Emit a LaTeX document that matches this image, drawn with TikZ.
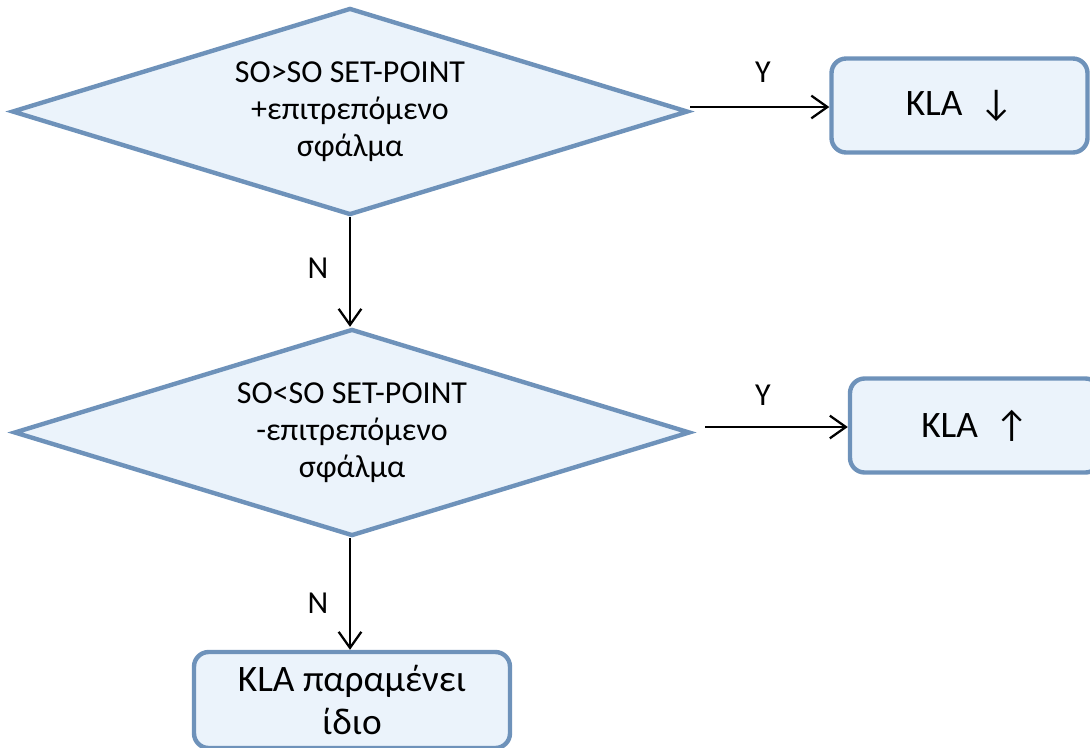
\documentclass[tikz,border=0pt]{standalone}
\usepackage{fontspec}
\setmainfont{Carlito}
\newfontfamily\arrfont{DejaVu Sans}
\usetikzlibrary{shapes.geometric,arrows.meta}
\definecolor{edgeblue}{HTML}{6E92BA}
\definecolor{fillblue}{HTML}{EBF3FB}
\begin{document}
\begin{tikzpicture}[x=0.75pt,y=-0.75pt,
  decision/.style={shape=diamond, draw=edgeblue, fill=fillblue, line width=3.3pt,
    minimum width=676*0.75pt, minimum height=207*0.75pt, inner sep=0pt, aspect=3.27,
    align=center, font=\fontsize{24}{27.6}\selectfont},
  action/.style={draw=edgeblue, fill=fillblue, line width=3.3pt, rounded corners=11pt,
    align=center, inner sep=0pt, font=\fontsize{28}{32}\selectfont},
  flow/.style={line width=1.7pt, -{Straight Barb[length=12pt,width=17pt,line width=1.7pt]}},
  lbl/.style={font=\fontsize{24}{26}\selectfont, inner sep=0pt}]
\useasboundingbox (0,0) rectangle (1090,747);
\node[decision] (d1) at (350,111.5) {SO>SO SET-POINT\\+επιτρεπόμενο\\σφάλμα};
\node[decision] (d2) at (352,432.5) {SO<SO SET-POINT\\-επιτρεπόμενο\\σφάλμα};
\node[action, minimum width=256*0.75pt, minimum height=94*0.75pt] (b1) at (959.5,105.5) {KLA \ ↓};
\node[action, minimum width=250*0.75pt, minimum height=94*0.75pt] (b2) at (975,425.5) {KLA \ ↑};
\node[action, minimum width=316*0.75pt, minimum height=96*0.75pt] (b3) at (352,700) {KLA παραμένει\\ίδιο};
\coordinate (s2) at (705,427);
\draw[flow] (d1.east |- 0,107) -- (b1.west |- 0,107);
\draw[flow] (s2) -- (b2.west |- s2);
\draw[flow] (d1.south) -- (d2.north -| d1.south);
\draw[flow] (d2.south -| d1.south) -- (b3.north -| d1.south);
\node[lbl] (y1) at (763,72) {Y};
\node[lbl] (y2) at (763,395) {Y};
\node[lbl] (n1) at (318,268) {N};
\node[lbl] (n2) at (318,603) {N};
\end{tikzpicture}
\end{document}
